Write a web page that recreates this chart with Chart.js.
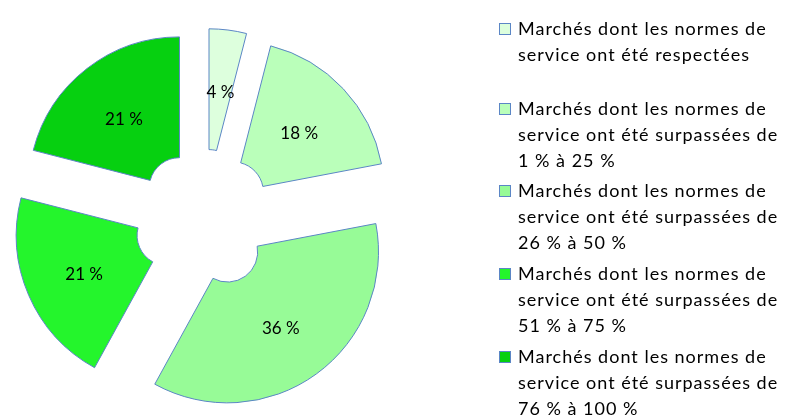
<!DOCTYPE html>
<html>
<head>
<meta charset="utf-8">
<script src="https://cdn.jsdelivr.net/npm/chart.js@4"></script>
<style>
  html, body { margin: 0; padding: 0; background: #fff; }
  #wrap { width: 793px; height: 417px; }
</style>
</head>
<body>
<div id="wrap"><canvas id="pie" width="793" height="417"></canvas></div>
<script>
// données
const categories = [
  ['Marchés dont les normes de', 'service ont été respectées'],
  ['Marchés dont les normes de', 'service ont été surpassées de', '1 % à 25 %'],
  ['Marchés dont les normes de', 'service ont été surpassées de', '26 % à 50 %'],
  ['Marchés dont les normes de', 'service ont été surpassées de', '51 % à 75 %'],
  ['Marchés dont les normes de', 'service ont été surpassées de', '76 % à 100 %']
];
const shares = [4, 18, 36, 21, 21];
const colors = ['#ddffdd', '#baffba', '#97fb97', '#24f52c', '#06d010'];

const FONT = 'Lato, "Open Sans", sans-serif';
const EXPLODE = 40;

// chaque part est décalée vers l'extérieur
const explode = {
  id: 'explode',
  beforeDatasetDraw(chart, args) {
    const ctx = chart.ctx;
    args.meta.data.forEach(arc => {
      const mid = (arc.startAngle + arc.endAngle) / 2;
      ctx.save();
      ctx.translate(Math.cos(mid) * EXPLODE, Math.sin(mid) * EXPLODE);
      arc.draw(ctx);
      ctx.restore();
    });
    return false;
  },
  afterDatasetsDraw(chart) {
    const ctx = chart.ctx;
    const meta = chart.getDatasetMeta(0);
    ctx.save();
    ctx.font = '17px ' + FONT;
    ctx.fillStyle = '#000';
    ctx.textAlign = 'center';
    ctx.textBaseline = 'middle';
    meta.data.forEach((arc, i) => {
      const mid = (arc.startAngle + arc.endAngle) / 2;
      const p = arc.getCenterPoint();
      ctx.fillText(shares[i] + ' %', p.x + Math.cos(mid) * EXPLODE, p.y + Math.sin(mid) * EXPLODE + 3);
    });
    ctx.restore();
  }
};

// légende à droite
const sideLegend = {
  id: 'sideLegend',
  afterDraw(chart) {
    const ctx = chart.ctx;
    const starts = [35, 115, 197, 280, 363];
    ctx.save();
    ctx.font = '18px ' + FONT;
    ctx.letterSpacing = '1px';
    ctx.textBaseline = 'alphabetic';
    ctx.textAlign = 'left';
    categories.forEach((lines, i) => {
      const y0 = starts[i];
      ctx.fillStyle = colors[i];
      ctx.fillRect(499.5, y0 - 11.5, 11, 11);
      ctx.strokeStyle = '#5b86c5';
      ctx.lineWidth = 1;
      ctx.strokeRect(499.5, y0 - 11.5, 11, 11);
      ctx.fillStyle = '#000';
      lines.forEach((t, j) => ctx.fillText(t, 518, y0 + j * 26));
    });
    ctx.restore();
  }
};

new Chart(document.getElementById('pie'), {
  type: 'doughnut',
  data: {
    labels: categories,
    datasets: [{
      data: shares,
      backgroundColor: colors,
      borderColor: '#5b86c5',
      borderWidth: 1
    }]
  },
  options: {
    responsive: false,
    animation: false,
    radius: 151,
    cutout: '20%',
    layout: { padding: { left: 0, right: 385, top: 22, bottom: 0 } },
    plugins: {
      legend: { display: false },
      tooltip: { enabled: false }
    }
  },
  plugins: [explode, sideLegend]
});
</script>
</body>
</html>
